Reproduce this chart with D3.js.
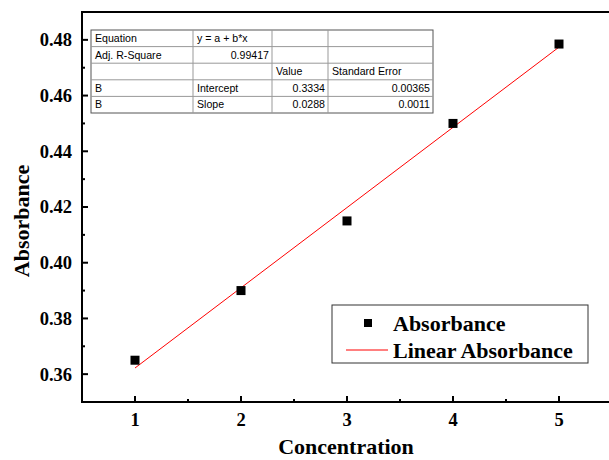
<!DOCTYPE html>
<html>
<head>
<meta charset="utf-8">
<script src="https://cdn.jsdelivr.net/npm/d3@7"></script>
<style>
  body { margin: 0; background: #fff; }
</style>
</head>
<body>
<div id="chart"></div>
<script>
// data
const concentration = [1, 2, 3, 4, 5]
const absorbance = [0.365, 0.39, 0.415, 0.45, 0.4785]
const fitIntercept = 0.3334
const fitSlope = 0.0288
const xTicks = [1, 2, 3, 4, 5]
const yTicks = [0.36, 0.38, 0.40, 0.42, 0.44, 0.46, 0.48]
const tableRows = [
  ['Equation', 'y = a + b*x', '', ''],
  ['Adj. R-Square', '0.99417', '', ''],
  ['', '', 'Value', 'Standard Error'],
  ['B', 'Intercept', '0.3334', '0.00365'],
  ['B', 'Slope', '0.0288', '0.0011'],
]

const W = 609
const H = 460
const margin = { left: 82, top: 12, right: -3, bottom: 58 }
const SERIF = '"Liberation Serif", "Times New Roman", serif'
const SANS = '"Liberation Sans", Arial, sans-serif'

const x = d3.scaleLinear().domain([0.5, 5.5]).range([margin.left, W - margin.right])
const y = d3.scaleLinear().domain([0.35, 0.49]).range([H - margin.bottom, margin.top])

const svg = d3.select('#chart').append('svg').attr('width', W).attr('height', H)

svg.append('rect').attr('width', W).attr('height', H).attr('fill', '#ffffff')

// fit line
const fitX = [1, 5]
svg
  .append('path')
  .attr('d', d3.line().x((d) => x(d)).y((d) => y(fitIntercept + fitSlope * d))(fitX))
  .attr('stroke', '#ff0000')
  .attr('stroke-width', 1)
  .attr('fill', 'none')

// points
const S = 9
svg
  .selectAll('rect.pt')
  .data(concentration)
  .join('rect')
  .attr('class', 'pt')
  .attr('x', (d) => x(d) - S / 2)
  .attr('y', (d, i) => y(absorbance[i]) - S / 2)
  .attr('width', S)
  .attr('height', S)
  .attr('fill', '#000')

// frame
const x0 = x.range()[0]
const x1 = x.range()[1]
const y0 = y.range()[0]
const y1 = y.range()[1]
svg
  .append('rect')
  .attr('x', x0)
  .attr('y', y1)
  .attr('width', x1 - x0)
  .attr('height', y0 - y1)
  .attr('fill', 'none')
  .attr('stroke', '#000')
  .attr('stroke-width', 2)

// x axis (ticks inward)
const xAxis = svg.append('g').attr('transform', `translate(0, ${y0})`)
xAxis
  .selectAll('line.minor')
  .data(d3.range(1.5, 5.5, 1))
  .join('line')
  .attr('x1', (d) => x(d))
  .attr('x2', (d) => x(d))
  .attr('y1', 0)
  .attr('y2', -3)
  .attr('stroke', '#000')
  .attr('stroke-width', 2)
xAxis
  .selectAll('line.major')
  .data(xTicks)
  .join('line')
  .attr('x1', (d) => x(d))
  .attr('x2', (d) => x(d))
  .attr('y1', 0)
  .attr('y2', -6)
  .attr('stroke', '#000')
  .attr('stroke-width', 2)
xAxis
  .selectAll('text')
  .data(xTicks)
  .join('text')
  .attr('x', (d) => x(d))
  .attr('y', 24)
  .attr('text-anchor', 'middle')
  .attr('font-family', SERIF)
  .attr('font-weight', 'bold')
  .attr('font-size', 18.5)
  .text((d) => d)

// y axis (ticks inward)
const yAxis = svg.append('g').attr('transform', `translate(${x0}, 0)`)
yAxis
  .selectAll('line.minor')
  .data(d3.range(0.37, 0.49, 0.02))
  .join('line')
  .attr('x1', 0)
  .attr('x2', 3)
  .attr('y1', (d) => y(d))
  .attr('y2', (d) => y(d))
  .attr('stroke', '#000')
  .attr('stroke-width', 2)
yAxis
  .selectAll('line.major')
  .data(yTicks)
  .join('line')
  .attr('x1', 0)
  .attr('x2', 6)
  .attr('y1', (d) => y(d))
  .attr('y2', (d) => y(d))
  .attr('stroke', '#000')
  .attr('stroke-width', 2)
yAxis
  .selectAll('text')
  .data(yTicks)
  .join('text')
  .attr('x', -10)
  .attr('y', (d) => y(d))
  .attr('dy', '0.35em')
  .attr('text-anchor', 'end')
  .attr('font-family', SERIF)
  .attr('font-weight', 'bold')
  .attr('font-size', 18.5)
  .text((d) => d3.format('.2f')(d))

// axis titles
svg
  .append('text')
  .attr('x', 346)
  .attr('y', 454)
  .attr('text-anchor', 'middle')
  .attr('font-family', SERIF)
  .attr('font-weight', 'bold')
  .attr('font-size', 22)
  .text('Concentration')

svg
  .append('text')
  .attr('transform', 'translate(29, 221) rotate(-90)')
  .attr('text-anchor', 'middle')
  .attr('font-family', SERIF)
  .attr('font-weight', 'bold')
  .attr('font-size', 22)
  .text('Absorbance')

// fit table
const colX = [91, 193, 272, 328, 433]
const rowH = 16.6
const tY = 30
const table = svg.append('g')
table
  .append('rect')
  .attr('x', colX[0])
  .attr('y', tY)
  .attr('width', colX[4] - colX[0])
  .attr('height', rowH * tableRows.length)
  .attr('fill', '#fff')
  .attr('stroke', '#555')
  .attr('stroke-width', 1)
tableRows.forEach((row, r) => {
  if (r > 0) {
    table
      .append('line')
      .attr('x1', colX[0])
      .attr('x2', colX[4])
      .attr('y1', tY + r * rowH)
      .attr('y2', tY + r * rowH)
      .attr('stroke', '#999')
  }
  row.forEach((cell, c) => {
    if (!cell) return
    const rightAlign = (r === 1 && c === 1) || (r >= 3 && c >= 2)
    table
      .append('text')
      .attr('x', rightAlign ? colX[c + 1] - 3 : colX[c] + 4)
      .attr('y', tY + r * rowH + rowH / 2)
      .attr('dy', '0.35em')
      .attr('text-anchor', rightAlign ? 'end' : 'start')
      .attr('font-family', SANS)
      .attr('font-size', 10.6)
      .attr('fill', '#000')
      .text(cell)
  })
})
colX.slice(1, 4).forEach((cx) => {
  table
    .append('line')
    .attr('x1', cx)
    .attr('x2', cx)
    .attr('y1', tY)
    .attr('y2', tY + rowH * tableRows.length)
    .attr('stroke', '#999')
})

// legend
const legend = svg.append('g').attr('transform', 'translate(332, 305)')
legend
  .append('rect')
  .attr('width', 256)
  .attr('height', 58)
  .attr('fill', '#fff')
  .attr('stroke', '#333')
  .attr('stroke-width', 1)
legend
  .append('rect')
  .attr('x', 36 - 4)
  .attr('y', 18 - 4)
  .attr('width', 8)
  .attr('height', 8)
  .attr('fill', '#000')
legend
  .append('line')
  .attr('x1', 14)
  .attr('x2', 56)
  .attr('y1', 45)
  .attr('y2', 45)
  .attr('stroke', '#ff0000')
  .attr('stroke-width', 1)
legend
  .selectAll('text')
  .data(['Absorbance', 'Linear Absorbance'])
  .join('text')
  .attr('x', 61)
  .attr('y', (d, i) => 18 + i * 27)
  .attr('dy', '0.35em')
  .attr('font-family', SERIF)
  .attr('font-weight', 'bold')
  .attr('font-size', 22)
  .text((d) => d)
</script>
</body>
</html>
